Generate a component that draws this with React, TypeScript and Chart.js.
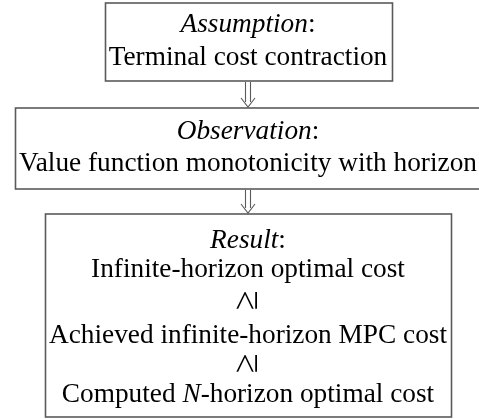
import React, { useEffect, useRef } from "react";
import { Chart, registerables } from "chart.js";

Chart.register(...registerables);

// ---- content ----
const stageTitles = ["Assumption", "Observation", "Result"];
const stageStatements = [
  ["Terminal cost contraction"],
  ["Value function monotonicity with horizon"],
  [
    "Infinite-horizon optimal cost",
    "Achieved infinite-horizon MPC cost",
    "Computed *N*-horizon optimal cost",
  ],
];
const relationSymbol = "≥";

// ---- layout (chart units = pixels of a 479x419 frame) ----
const FONT = '"Liberation Serif", "Times New Roman", serif';
const REL_FONT = '"Liberation Serif", serif';
const FS = 27.3;
const REL_FS = 36;
const CX = 248;
const PADX = 4;
const boxLayout = [
  { top: 3, bottom: 81, baselines: [32, 65], relations: [] as number[] },
  { top: 108, bottom: 189, baselines: [139, 171], relations: [] as number[] },
  { top: 214, bottom: 417, baselines: [248, 277, 343, 402], relations: [300, 363] },
];
const LINE = "#5a5a5a";

type Seg = { t: string; it: boolean };
function parse(s: string): Seg[] {
  const parts = s.split("*");
  return parts.map((t, i) => ({ t, it: i % 2 === 1 })).filter((p) => p.t.length);
}
function fontFor(it: boolean) {
  return `${it ? "italic " : ""}${FS}px ${FONT}`;
}
function segWidth(ctx: CanvasRenderingContext2D, segs: Seg[]) {
  let w = 0;
  for (const s of segs) {
    ctx.font = fontFor(s.it);
    w += ctx.measureText(s.t).width;
  }
  return w;
}
function drawSegs(ctx: CanvasRenderingContext2D, segs: Seg[], cx: number, y: number) {
  const w = segWidth(ctx, segs);
  let x = cx - w / 2;
  for (const s of segs) {
    ctx.font = fontFor(s.it);
    ctx.fillText(s.t, x, y);
    x += ctx.measureText(s.t).width;
  }
}

const flowPlugin = {
  id: "flow",
  afterDraw(chart: any) {
    const ctx: CanvasRenderingContext2D = chart.ctx;
    const xs = chart.scales.x;
    const ys = chart.scales.y;
    const px = (v: number) => xs.getPixelForValue(v);
    const py = (v: number) => ys.getPixelForValue(v);
    ctx.save();
    ctx.fillStyle = "#000";
    ctx.textBaseline = "alphabetic";
    const cx = px(CX);
    stageTitles.forEach((title, i) => {
      const lay = boxLayout[i];
      const lines: Seg[][] = [
        [{ t: title, it: true }, { t: ":", it: false }],
        ...stageStatements[i].map(parse),
      ];
      let maxW = 0;
      lines.forEach((l) => (maxW = Math.max(maxW, segWidth(ctx, l))));
      const x0 = cx - maxW / 2 - PADX;
      const x1 = cx + maxW / 2 + PADX;
      ctx.strokeStyle = LINE;
      ctx.lineWidth = 1.6;
      ctx.strokeRect(Math.round(x0) + 0.5, py(lay.top), Math.round(x1 - x0), py(lay.bottom) - py(lay.top));
      lines.forEach((l, k) => drawSegs(ctx, l, cx, py(lay.baselines[k])));
      lay.relations.forEach((ry) => {
        ctx.save();
        ctx.translate(cx, py(ry));
        ctx.rotate(-Math.PI / 2);
        ctx.font = `${REL_FS}px ${REL_FONT}`;
        ctx.textAlign = "center";
        ctx.textBaseline = "middle";
        ctx.fillText(relationSymbol, 0, 0);
        ctx.restore();
      });
    });
    // arrows between boxes
    for (let i = 0; i < boxLayout.length - 1; i++) {
      const y0 = py(boxLayout[i].bottom) + 1;
      const y1 = py(boxLayout[i + 1].top) - 1;
      ctx.strokeStyle = LINE;
      ctx.lineWidth = 1.1;
      ctx.beginPath();
      ctx.moveTo(cx - 2.5, y0);
      ctx.lineTo(cx - 2.5, y1 - 5);
      ctx.moveTo(cx + 2.5, y0);
      ctx.lineTo(cx + 2.5, y1 - 5);
      ctx.moveTo(cx - 7, y1 - 9);
      ctx.lineTo(cx, y1);
      ctx.lineTo(cx + 7, y1 - 9);
      ctx.stroke();
    }
    ctx.restore();
  },
};

export default function App() {
  const ref = useRef<HTMLCanvasElement>(null);
  useEffect(() => {
    if (!ref.current) return;
    const chart = new Chart(ref.current, {
      type: "scatter",
      data: {
        datasets: [
          {
            data: boxLayout.map((b) => ({ x: CX, y: (b.top + b.bottom) / 2 })),
            pointRadius: 0,
          },
        ],
      },
      options: {
        animation: false,
        responsive: true,
        maintainAspectRatio: false,
        layout: { padding: 0 },
        plugins: { legend: { display: false }, tooltip: { enabled: false } },
        scales: {
          x: { type: "linear", min: 0, max: 479, display: false },
          y: { type: "linear", min: 0, max: 419, reverse: true, display: false },
        },
      },
      plugins: [flowPlugin],
    });
    return () => chart.destroy();
  }, []);
  return (
    <div style={{ position: "fixed", left: 0, top: 0, width: 479, height: 419, background: "#fff" }}>
      <canvas ref={ref} />
    </div>
  );
}
